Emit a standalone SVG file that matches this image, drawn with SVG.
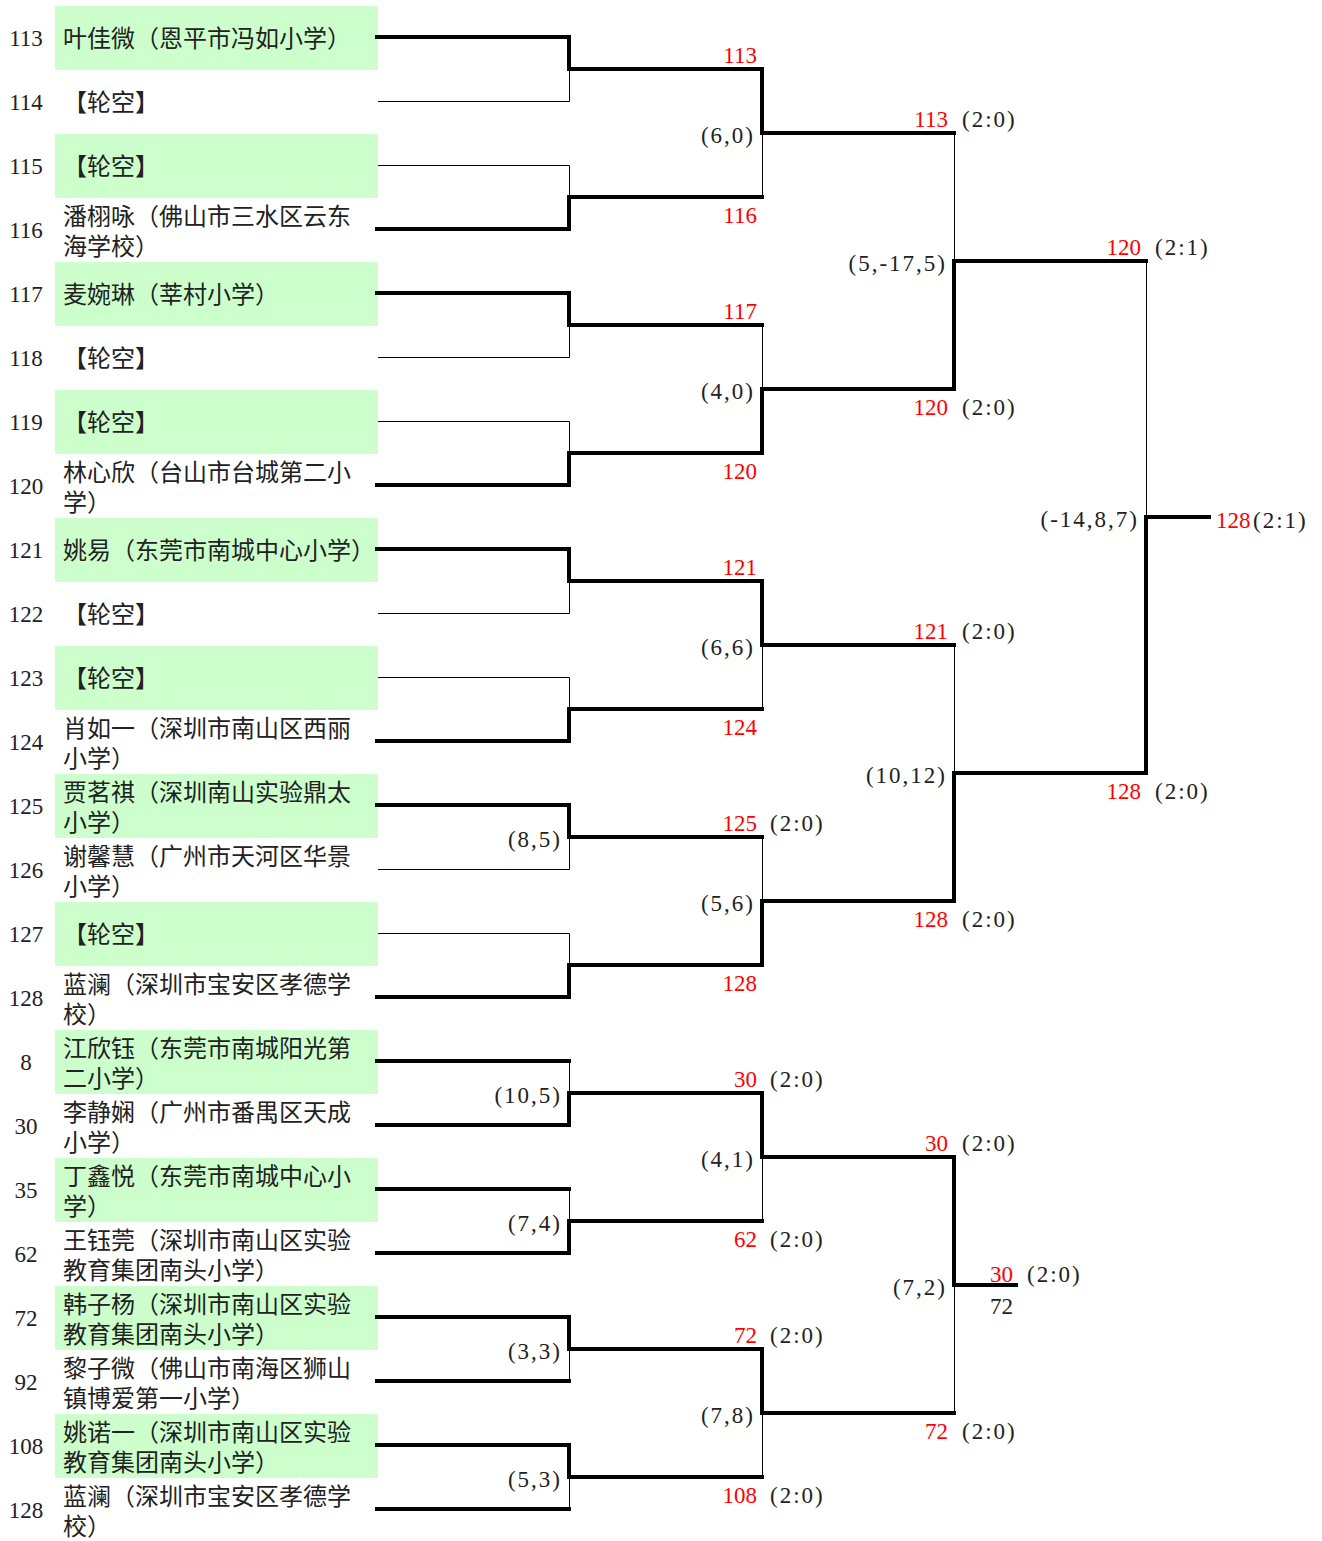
<svg xmlns="http://www.w3.org/2000/svg" width="1322" height="1541" viewBox="0 0 1322 1541">
<style>
.box{fill:#ccffcc}
.num{font-family:"Liberation Serif",serif;font-size:23px;fill:#222;text-anchor:middle}
.name{font-family:"Liberation Sans","Noto Sans CJK SC",sans-serif;font-size:24px;fill:#222}
.red{font-family:"Liberation Serif",serif;font-size:23px;fill:#ff0000;text-anchor:end}
.redL{font-family:"Liberation Serif",serif;font-size:23px;fill:#ff0000}
.blkE{font-family:"Liberation Serif",serif;font-size:23px;fill:#222;text-anchor:end}
.sc{font-family:"Liberation Serif",serif;font-size:23px;fill:#222;letter-spacing:2px}
.sce{font-family:"Liberation Serif",serif;font-size:23px;fill:#222;letter-spacing:2px;text-anchor:end}
.thick{fill:none;stroke:#000;stroke-width:4;stroke-linecap:square;stroke-linejoin:miter}
.thin{fill:none;stroke:#000;stroke-width:1}
</style>
<rect width="1322" height="1541" fill="#fff"/>

<g id="players">
<g id="p0"><rect class="box" x="55" y="6" width="323" height="64"/><text class="num" x="26" y="46">113</text><text class="name" x="63" y="47">叶佳微（恩平市冯如小学）</text></g>
<g id="p1"><text class="num" x="26" y="110">114</text><text class="name" x="63" y="111">【轮空】</text></g>
<g id="p2"><rect class="box" x="55" y="134" width="323" height="64"/><text class="num" x="26" y="174">115</text><text class="name" x="63" y="175">【轮空】</text></g>
<g id="p3"><text class="num" x="26" y="238">116</text><text class="name" x="63" y="225">潘栩咏（佛山市三水区云东<tspan x="63" dy="30">海学校）</tspan></text></g>
<g id="p4"><rect class="box" x="55" y="262" width="323" height="64"/><text class="num" x="26" y="302">117</text><text class="name" x="63" y="303">麦婉琳（莘村小学）</text></g>
<g id="p5"><text class="num" x="26" y="366">118</text><text class="name" x="63" y="367">【轮空】</text></g>
<g id="p6"><rect class="box" x="55" y="390" width="323" height="64"/><text class="num" x="26" y="430">119</text><text class="name" x="63" y="431">【轮空】</text></g>
<g id="p7"><text class="num" x="26" y="494">120</text><text class="name" x="63" y="481">林心欣（台山市台城第二小<tspan x="63" dy="30">学）</tspan></text></g>
<g id="p8"><rect class="box" x="55" y="518" width="323" height="64"/><text class="num" x="26" y="558">121</text><text class="name" x="63" y="559">姚易（东莞市南城中心小学）</text></g>
<g id="p9"><text class="num" x="26" y="622">122</text><text class="name" x="63" y="623">【轮空】</text></g>
<g id="p10"><rect class="box" x="55" y="646" width="323" height="64"/><text class="num" x="26" y="686">123</text><text class="name" x="63" y="687">【轮空】</text></g>
<g id="p11"><text class="num" x="26" y="750">124</text><text class="name" x="63" y="737">肖如一（深圳市南山区西丽<tspan x="63" dy="30">小学）</tspan></text></g>
<g id="p12"><rect class="box" x="55" y="774" width="323" height="64"/><text class="num" x="26" y="814">125</text><text class="name" x="63" y="801">贾茗祺（深圳南山实验鼎太<tspan x="63" dy="30">小学）</tspan></text></g>
<g id="p13"><text class="num" x="26" y="878">126</text><text class="name" x="63" y="865">谢馨慧（广州市天河区华景<tspan x="63" dy="30">小学）</tspan></text></g>
<g id="p14"><rect class="box" x="55" y="902" width="323" height="64"/><text class="num" x="26" y="942">127</text><text class="name" x="63" y="943">【轮空】</text></g>
<g id="p15"><text class="num" x="26" y="1006">128</text><text class="name" x="63" y="993">蓝澜（深圳市宝安区孝德学<tspan x="63" dy="30">校）</tspan></text></g>
<g id="p16"><rect class="box" x="55" y="1030" width="323" height="64"/><text class="num" x="26" y="1070">8</text><text class="name" x="63" y="1057">江欣钰（东莞市南城阳光第<tspan x="63" dy="30">二小学）</tspan></text></g>
<g id="p17"><text class="num" x="26" y="1134">30</text><text class="name" x="63" y="1121">李静娴（广州市番禺区天成<tspan x="63" dy="30">小学）</tspan></text></g>
<g id="p18"><rect class="box" x="55" y="1158" width="323" height="64"/><text class="num" x="26" y="1198">35</text><text class="name" x="63" y="1185">丁鑫悦（东莞市南城中心小<tspan x="63" dy="30">学）</tspan></text></g>
<g id="p19"><text class="num" x="26" y="1262">62</text><text class="name" x="63" y="1249">王钰莞（深圳市南山区实验<tspan x="63" dy="30">教育集团南头小学）</tspan></text></g>
<g id="p20"><rect class="box" x="55" y="1286" width="323" height="64"/><text class="num" x="26" y="1326">72</text><text class="name" x="63" y="1313">韩子杨（深圳市南山区实验<tspan x="63" dy="30">教育集团南头小学）</tspan></text></g>
<g id="p21"><text class="num" x="26" y="1390">92</text><text class="name" x="63" y="1377">黎子微（佛山市南海区狮山<tspan x="63" dy="30">镇博爱第一小学）</tspan></text></g>
<g id="p22"><rect class="box" x="55" y="1414" width="323" height="64"/><text class="num" x="26" y="1454">108</text><text class="name" x="63" y="1441">姚诺一（深圳市南山区实验<tspan x="63" dy="30">教育集团南头小学）</tspan></text></g>
<g id="p23"><text class="num" x="26" y="1518">128</text><text class="name" x="63" y="1505">蓝澜（深圳市宝安区孝德学<tspan x="63" dy="30">校）</tspan></text></g>
</g>

<g id="connectors">
<g id="thin-lines">
<polyline class="thin" points="378,101.5 569.5,101.5 569.5,69"/>
<polyline class="thin" points="378,165.5 569.5,165.5 569.5,197"/>
<polyline class="thin" points="378,357.5 569.5,357.5 569.5,325"/>
<polyline class="thin" points="378,421.5 569.5,421.5 569.5,453"/>
<polyline class="thin" points="378,613.5 569.5,613.5 569.5,581"/>
<polyline class="thin" points="378,677.5 569.5,677.5 569.5,709"/>
<polyline class="thin" points="378,869.5 569.5,869.5 569.5,837"/>
<polyline class="thin" points="378,933.5 569.5,933.5 569.5,965"/>
<polyline class="thin" points="762.5,197 762.5,133"/>
<polyline class="thin" points="762.5,325 762.5,389"/>
<polyline class="thin" points="762.5,709 762.5,645"/>
<polyline class="thin" points="762.5,837 762.5,901"/>
<polyline class="thin" points="954.5,133 954.5,261"/>
<polyline class="thin" points="954.5,645 954.5,773"/>
<polyline class="thin" points="1146.5,261 1146.5,517"/>
<polyline class="thin" points="569.5,1061 569.5,1093"/>
<polyline class="thin" points="569.5,1189 569.5,1221"/>
<polyline class="thin" points="569.5,1381 569.5,1349"/>
<polyline class="thin" points="569.5,1509 569.5,1477"/>
<polyline class="thin" points="762.5,1221 762.5,1157"/>
<polyline class="thin" points="762.5,1477 762.5,1413"/>
<polyline class="thin" points="954.5,1413 954.5,1285"/>
</g>
<g id="thick-lines">
<polyline class="thick" points="377,37 569,37 569,69 762,69"/>
<polyline class="thick" points="377,229 569,229 569,197 762,197"/>
<polyline class="thick" points="377,293 569,293 569,325 762,325"/>
<polyline class="thick" points="377,485 569,485 569,453 762,453"/>
<polyline class="thick" points="377,549 569,549 569,581 762,581"/>
<polyline class="thick" points="377,741 569,741 569,709 762,709"/>
<polyline class="thick" points="377,805 569,805 569,837 762,837"/>
<polyline class="thick" points="377,997 569,997 569,965 762,965"/>
<polyline class="thick" points="762,69 762,133 954,133"/>
<polyline class="thick" points="762,453 762,389 954,389"/>
<polyline class="thick" points="762,581 762,645 954,645"/>
<polyline class="thick" points="762,965 762,901 954,901"/>
<polyline class="thick" points="954,389 954,261 1146,261"/>
<polyline class="thick" points="954,901 954,773 1146,773"/>
<polyline class="thick" points="1146,773 1146,517 1209,517"/>
<polyline class="thick" points="377,1125 569,1125 569,1093 762,1093"/>
<polyline class="thick" points="377,1061 569,1061"/>
<polyline class="thick" points="377,1253 569,1253 569,1221 762,1221"/>
<polyline class="thick" points="377,1189 569,1189"/>
<polyline class="thick" points="377,1317 569,1317 569,1349 762,1349"/>
<polyline class="thick" points="377,1381 569,1381"/>
<polyline class="thick" points="377,1445 569,1445 569,1477 762,1477"/>
<polyline class="thick" points="377,1509 569,1509"/>
<polyline class="thick" points="762,1093 762,1157 954,1157"/>
<polyline class="thick" points="762,1349 762,1413 954,1413"/>
<polyline class="thick" points="954,1157 954,1285 1016,1285"/>
</g>
</g>

<g id="winner-labels">
<text class="red" x="757" y="63">113</text>
<text class="red" x="757" y="223">116</text>
<text class="red" x="757" y="319">117</text>
<text class="red" x="757" y="479">120</text>
<text class="red" x="757" y="575">121</text>
<text class="red" x="757" y="735">124</text>
<text class="red" x="757" y="831">125</text><text class="sc" x="770" y="831">(2:0)</text>
<text class="red" x="757" y="991">128</text>
<text class="red" x="757" y="1087">30</text><text class="sc" x="770" y="1087">(2:0)</text>
<text class="red" x="757" y="1247">62</text><text class="sc" x="770" y="1247">(2:0)</text>
<text class="red" x="757" y="1343">72</text><text class="sc" x="770" y="1343">(2:0)</text>
<text class="red" x="757" y="1503">108</text><text class="sc" x="770" y="1503">(2:0)</text>

<text class="red" x="948" y="127">113</text><text class="sc" x="962" y="127">(2:0)</text>
<text class="red" x="948" y="415">120</text><text class="sc" x="962" y="415">(2:0)</text>
<text class="red" x="948" y="639">121</text><text class="sc" x="962" y="639">(2:0)</text>
<text class="red" x="948" y="927">128</text><text class="sc" x="962" y="927">(2:0)</text>
<text class="red" x="948" y="1151">30</text><text class="sc" x="962" y="1151">(2:0)</text>
<text class="red" x="948" y="1439">72</text><text class="sc" x="962" y="1439">(2:0)</text>

<text class="red" x="1141" y="255">120</text><text class="sc" x="1155" y="255">(2:1)</text>
<text class="red" x="1141" y="799">128</text><text class="sc" x="1155" y="799">(2:0)</text>

<text class="redL" x="1216" y="528">128</text><text class="sc" x="1253" y="528">(2:1)</text>

<text class="red" x="1013" y="1282">30</text><text class="sc" x="1027" y="1282">(2:0)</text>
<text class="blkE" x="1013" y="1314">72</text>
</g>

<g id="scores">
<text class="sce" x="562" y="847">(8,5)</text>
<text class="sce" x="755" y="143">(6,0)</text>
<text class="sce" x="755" y="399">(4,0)</text>
<text class="sce" x="755" y="655">(6,6)</text>
<text class="sce" x="755" y="911">(5,6)</text>
<text class="sce" x="947" y="271">(5,-17,5)</text>
<text class="sce" x="947" y="783">(10,12)</text>
<text class="sce" x="1139" y="527">(-14,8,7)</text>
<text class="sce" x="562" y="1103">(10,5)</text>
<text class="sce" x="562" y="1231">(7,4)</text>
<text class="sce" x="562" y="1359">(3,3)</text>
<text class="sce" x="562" y="1487">(5,3)</text>
<text class="sce" x="755" y="1167">(4,1)</text>
<text class="sce" x="755" y="1423">(7,8)</text>
<text class="sce" x="947" y="1295">(7,2)</text>
</g>
</svg>
